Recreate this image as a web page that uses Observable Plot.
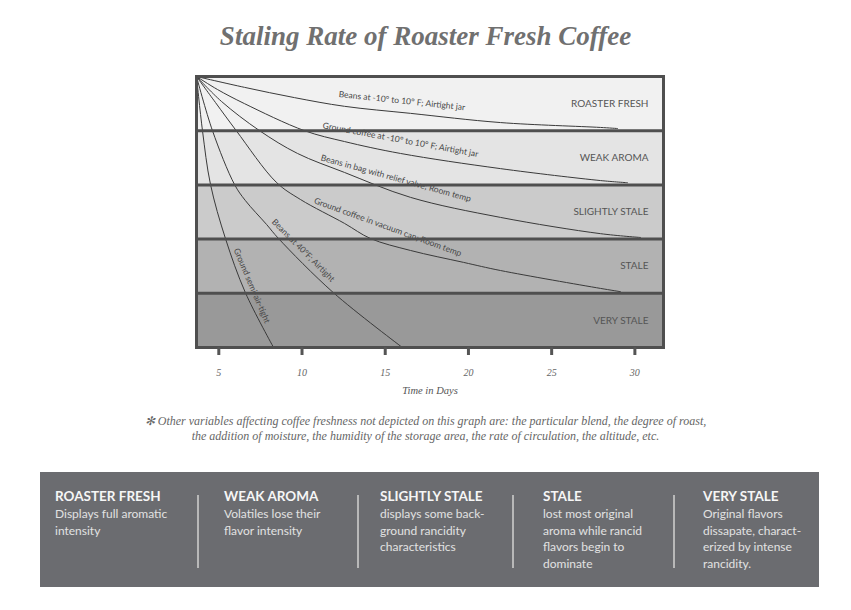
<!DOCTYPE html>
<html><head><meta charset="utf-8">
<script src="https://cdn.jsdelivr.net/npm/d3@7"></script>
<script src="https://cdn.jsdelivr.net/npm/@observablehq/plot@0.6"></script>
<style>
body{margin:0;background:#fff;}
#page{position:relative;width:851px;height:610px;overflow:hidden;}
#title{position:absolute;left:0;top:20px;width:851px;text-align:center;font:italic bold 27px/32px "Liberation Serif",serif;color:#707070;}
#chart{position:absolute;left:0;top:70px;}
#note{position:absolute;left:0;top:414px;width:851px;text-align:center;font:italic 12px/15px "Liberation Serif",serif;color:#666;}
#panel{position:absolute;left:40px;top:472px;width:779px;height:115px;background:#6b6c70;}
.col{position:absolute;top:16px;}
.col h3{margin:0;font:bold 13.5px/17px Lato,sans-serif;color:#f6f6f6;}
.col p{margin:1px 0 0;font:12px/16.5px Lato,sans-serif;color:#e2e2e2;}
.divider{position:absolute;top:23px;height:73px;width:2px;background:#b8b8b8;}
</style>
</head><body>
<div id="page">
  <div id="title"></div>
  <div id="chart"></div>
  <div id="note"></div>
  <div id="panel"></div>
</div>
<script>
// ---- data ----
const titleText = "Staling Rate of Roaster Fresh Coffee";
const bands = ["ROASTER FRESH", "WEAK AROMA", "SLIGHTLY STALE", "STALE", "VERY STALE"];
const bandDescriptions = [
  ["Displays full aromatic", "intensity"],
  ["Volatiles lose their", "flavor intensity"],
  ["displays some back-", "ground rancidity", "characteristics"],
  ["lost most original", "aroma while rancid", "flavors begin to", "dominate"],
  ["Original flavors", "dissapate, charact-", "erized by intense", "rancidity."]
];
const xTicks = [5, 10, 15, 20, 25, 30];
const xDomain = [3.66, 31.72];
const xLabel = "Time in Days";
const footnote = [
  "✻ Other variables affecting coffee freshness not depicted on this graph are: the particular blend, the degree of  roast,",
  "the addition of moisture, the humidity of the storage area, the rate of  circulation, the altitude, etc."
];

// curves: [day, staleness level]
const beansFrozenJar = [[3.66,0],[6.54,0.20],[9.55,0.39],[12.55,0.55],[16.52,0.68],[21.93,0.85],[27.94,0.94],[28.96,0.96]];
const groundFrozenJar = [[3.66,0],[4.92,0.24],[6.54,0.50],[10.15,1.0],[12.55,1.20],[15.92,1.42],[21.93,1.70],[27.94,1.92],[29.56,1.96]];
const beansValveBag = [[3.66,0],[5.16,0.46],[7.45,1.0],[9.73,1.42],[12.55,1.77],[16.52,2.23],[21.93,2.60],[27.94,2.90],[30.34,2.97]];
const groundVacuumCan = [[3.66,0],[4.80,0.48],[6.05,1.0],[8.45,1.95],[9.91,2.27],[12.55,2.71],[14.12,2.99],[16.52,3.21],[19.71,3.43],[21.93,3.58],[27.94,3.91],[29.14,3.97]];
const beans40F = [[3.66,0],[4.62,1.0],[5.94,1.99],[6.60,2.29],[7.87,2.73],[8.59,2.99],[11.89,3.99],[16.03,5.0]];
const groundSemiAirtight = [[3.66,0],[4.02,1.0],[4.50,1.99],[5.40,2.99],[6.60,3.99],[8.29,5.0]];
const curves = [beansFrozenJar, groundFrozenJar, beansValveBag, groundVacuumCan, beans40F, groundSemiAirtight];

const curveNames = [
  "Beans at -10° to 10° F; Airtight jar",
  "Ground coffee at -10° to 10° F; Airtight jar",
  "Beans in bag with relief valve; Room temp",
  "Ground coffee in vacuum can; Room temp",
  "Beans at 40°F; Airtight",
  "Ground semi-air-tight"
];
const labelDays = [16.0, 15.92, 15.64, 15.15, 10.07, 6.98];
const labelLevels = [0.45, 1.17, 1.88, 2.78, 3.21, 3.86];
const labelAngles = [6, 10.5, 15.5, 20, 45, 67];

// ---- styles ----
const bandFills = ["#f1f1f1", "#e4e4e4", "#cbcbcb", "#b2b2b2", "#999999"];
const frameColor = "#4f4f4f";

const labelData = curveNames.map((t, i) => ({text: t, x: labelDays[i], y: labelLevels[i], angle: labelAngles[i]}));
const bandIdx = bands.map((b, i) => i);

const chart = Plot.plot({
  width: 851, height: 340,
  marginLeft: 196, marginRight: 188, marginTop: 6, marginBottom: 63,
  x: {domain: xDomain},
  y: {domain: [0, bands.length], reverse: true, axis: null},
  color: {type: "identity"},
  marks: [
    Plot.rect(bandIdx, {x1: () => xDomain[0], x2: () => xDomain[1], y1: d => d, y2: d => d + 1, fill: d => bandFills[d]}),
    ...curves.map(c => Plot.line(c, {x: d => d[0], y: d => d[1], curve: "catmull-rom", stroke: "#3a3a3a", strokeWidth: 1})),
    Plot.text(labelData, {x: "x", y: "y", text: "text", rotate: "angle", fontSize: 8.5, fill: "#474747", fontFamily: "Lato", textAnchor: "middle", lineAnchor: "middle"}),
    Plot.text(bands, {frameAnchor: "right", y: (d, i) => i + 0.5, dx: -15, textAnchor: "end", fontSize: 10, fill: "#555", fontFamily: "Lato"}),
    Plot.ruleY(d3.range(1, bands.length), {stroke: frameColor, strokeWidth: 3}),
    Plot.frame({stroke: frameColor, strokeWidth: 3}),
    Plot.axisX(xTicks, {tickSize: 8, tickPadding: 13, strokeWidth: 3, stroke: "#555", fill: "#666", fontSize: 10, fontStyle: "italic", fontFamily: "Liberation Serif", label: null}),
    Plot.text([xLabel], {frameAnchor: "bottom", dy: 46, fontStyle: "italic", fontFamily: "Liberation Serif", fontSize: 10.5, fill: "#555"})
  ]
});
document.getElementById("chart").appendChild(chart);
document.getElementById("title").textContent = titleText;
document.getElementById("note").innerHTML = footnote.map(s => s.replace(/&/g,"&amp;")).join("<br>");

const colX = [15, 184, 340, 503, 663];
const dividerX = [157, 317, 472, 633];
const panel = document.getElementById("panel");
bands.forEach((b, i) => {
  const col = document.createElement("div");
  col.className = "col";
  col.style.left = colX[i] + "px";
  const h = document.createElement("h3");
  h.textContent = b;
  const p = document.createElement("p");
  p.innerHTML = bandDescriptions[i].join("<br>");
  col.appendChild(h); col.appendChild(p);
  panel.appendChild(col);
});
dividerX.forEach(x => {
  const d = document.createElement("div");
  d.className = "divider";
  d.style.left = x + "px";
  panel.appendChild(d);
});
</script>
</body></html>
